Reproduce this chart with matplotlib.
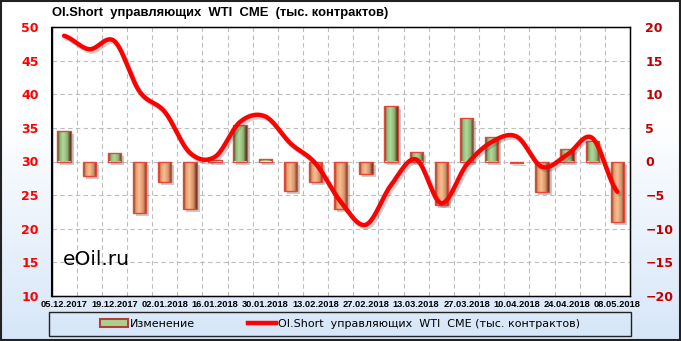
import numpy as np
import matplotlib
matplotlib.use('Agg')
import matplotlib.pyplot as plt
import matplotlib.transforms as mtransforms
from matplotlib.patches import Rectangle, Patch
from matplotlib.lines import Line2D
from matplotlib.colors import LinearSegmentedColormap

# weekly dates (every second one is labelled)
dates = ['05.12.2017', '12.12.2017', '19.12.2017', '26.12.2017', '02.01.2018',
         '09.01.2018', '16.01.2018', '23.01.2018', '30.01.2018', '06.02.2018',
         '13.02.2018', '20.02.2018', '27.02.2018', '06.03.2018', '13.03.2018',
         '20.03.2018', '27.03.2018', '03.04.2018', '10.04.2018', '17.04.2018',
         '24.04.2018', '01.05.2018', '08.05.2018']

# weekly change, thousand contracts (right axis)
change = [4.6, -2.1, 1.2, -7.6, -3.1, -7.0, 0.15, 5.5, 0.3, -4.4, -3.1, -7.0,
          -1.9, 8.3, 1.4, -6.5, 6.5, 3.7, -0.25, -4.6, 1.8, 3.0, -9.0]

# OI.Short of managed money, thousand contracts (left axis)
oi_short = [48.7, 46.7, 47.9, 40.4, 37.4, 31.3, 30.7, 35.9, 36.7, 32.7, 29.7, 24.0,
            20.6, 26.5, 30.3, 23.8, 29.5, 32.9, 33.7, 29.2, 31.0, 33.5, 25.5]

title = 'OI.Short  управляющих  WTI  CME  (тыс. контрактов)'
bar_label = 'Изменение'


def smooth_line(values, n=30):
    """Excel-like smoothed line (Bezier through the points)"""
    y = np.asarray(values, dtype=float)
    xs, ys = [], []
    last = len(y) - 1
    for i in range(last):
        p0, p1, p2, p3 = y[max(i - 1, 0)], y[i], y[i + 1], y[min(i + 2, last)]
        c1 = p1 + (p2 - p0) / 6
        c2 = p2 - (p3 - p1) / 6
        t = np.linspace(0, 1, n, endpoint=False)
        ys.append((1 - t) ** 3 * p1 + 3 * (1 - t) ** 2 * t * c1 + 3 * (1 - t) * t ** 2 * c2 + t ** 3 * p2)
        xs.append(i + t)
    xs.append([last])
    ys.append([y[-1]])
    return np.concatenate(xs), np.concatenate(ys)


fig = plt.figure(figsize=(6.81, 3.41), dpi=100)

# background gradient (white -> light blue)
bg = fig.add_axes([0, 0, 1, 1], zorder=-10)
grad = np.linspace(0, 1, 256)
grad = np.clip((grad - 0.35) / 0.65, 0, 1)[:, None]
bg_cmap = LinearSegmentedColormap.from_list('bg', ['#FFFFFF', '#D6E6F8'])
bg.imshow(grad, aspect='auto', cmap=bg_cmap, extent=[0, 1, 0, 1], origin='upper')
bg.set_xlim(0, 1)
bg.set_ylim(0, 1)
bg.axis('off')
bg.add_patch(Rectangle((0.001, 0.002), 0.997, 0.995, fill=False, edgecolor='#222222', lw=1.5))

ax = fig.add_axes([51.5 / 681, 1 - 296 / 341, (630 - 51.5) / 681, (296 - 27) / 341])
ax.set_facecolor('white')
ax2 = ax.twinx()
x = np.arange(len(dates))

# bars on the right scale
bars = ax.bar(x, change, width=0.53, color='none', edgecolor='#E8453C', linewidth=1.0, zorder=3)
shadow_tr = mtransforms.offset_copy(ax.transData, fig=fig, x=3, y=-3, units='dots')
green_cmap = LinearSegmentedColormap.from_list(
    'g', [(0, '#3A2A14'), (0.2, '#8DB870'), (0.45, '#B3D99A'), (0.75, '#8FB374'), (1, '#3A2A14')])
orange_cmap = LinearSegmentedColormap.from_list(
    'o', [(0, '#5E2E14'), (0.2, '#E89A68'), (0.45, '#F8BE93'), (0.75, '#D8926A'), (1, '#5E2E14')])
hgrad = np.linspace(0, 1, 64)[None, :]
for b, v in zip(bars, change):
    bx, by = b.get_x(), b.get_y()
    bw, bh = b.get_width(), b.get_height()
    ax.add_patch(Rectangle((bx, by), bw, bh, transform=shadow_tr, facecolor='#555555',
                           alpha=0.3, edgecolor='none', zorder=2))
    cm = green_cmap if v >= 0 else orange_cmap
    im = ax.imshow(hgrad, cmap=cm, aspect='auto', extent=[bx, bx + bw, by, by + bh], zorder=2.5)
    im.set_clip_path(b)

ax.set_xlim(-0.5, len(dates) - 0.5)
ax.set_ylim(-20, 20)
ax.set_yticks(np.arange(-20, 21, 5))
ax.yaxis.tick_right()
ax.tick_params(axis='y', length=0, pad=11, labelsize=9, labelcolor='#C00000')
for lbl in ax.get_yticklabels():
    lbl.set_fontweight('bold')

ax.set_xticks(x[::2])
ax.set_xticklabels(dates[::2], fontsize=6.7, fontweight='bold', family='Liberation Sans')
ax.set_xticks(np.arange(0.5, len(dates) - 1, 1), minor=True)
ax.tick_params(axis='x', which='both', length=0, pad=3)
ax.grid(True, axis='y', color='#BDBDBD', linestyle=(0, (4, 3)), lw=0.8)
ax.grid(True, axis='x', which='minor', color='#BDBDBD', linestyle=(0, (4, 3)), lw=0.8)
ax.set_axisbelow(True)
for s in ax.spines.values():
    s.set_color('black')
    s.set_linewidth(1.0)

# line on the left scale
ax2.set_ylim(10, 50)
ax2.set_yticks(np.arange(10, 51, 5))
ax2.yaxis.tick_left()
ax2.tick_params(axis='y', length=0, pad=9, labelsize=9, labelcolor='#FF0000')
for lbl in ax2.get_yticklabels():
    lbl.set_fontweight('bold')
ax.yaxis.tick_right()
sx, sy = smooth_line(oi_short)
line_shadow_tr = mtransforms.offset_copy(ax2.transData, fig=fig, x=2, y=-2.5, units='dots')
ax2.plot(sx, sy, color='#444444', lw=3.2, alpha=0.25, transform=line_shadow_tr, solid_capstyle='round')
ax2.plot(sx, sy, color='#FF0000', lw=3.2, solid_capstyle='round')

ax.text(0.02, 0.115, 'eOil.ru', transform=ax.transAxes, fontsize=14.5, color='black', zorder=6)

fig.text(52 / 681, 1 - 13 / 341, title, fontsize=9.4, fontweight='bold',
         family='Liberation Sans', va='center', ha='left')

# legend box
bg.add_patch(Rectangle((49 / 681, 1 - 336 / 341), 582 / 681, 24 / 341, fill=False,
                       edgecolor='#222222', lw=1.0))
handles = [Patch(facecolor='#A9D18E', edgecolor='#B0403A', lw=1.5),
           Line2D([0], [0], color='#FF0000', lw=3.2)]
fig.legend(handles, [bar_label, title.replace('  (', ' (')], loc='center',
           bbox_to_anchor=(340 / 681, 1 - 324 / 341), ncol=2, frameon=False,
           fontsize=8, handlelength=2.5, handleheight=0.7, handletextpad=0.15,
           columnspacing=4.8)

fig.savefig('out.png', dpi=100)
